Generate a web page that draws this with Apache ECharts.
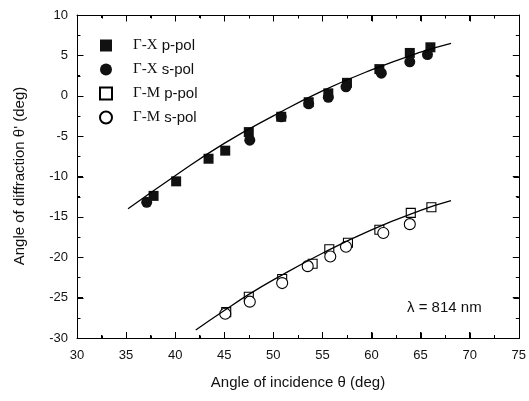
<!DOCTYPE html>
<html><head><meta charset="utf-8">
<script src="https://cdn.jsdelivr.net/npm/echarts@6/dist/echarts.min.js"></script>
<style>html,body{margin:0;padding:0;background:#fff}#c{width:529px;height:401px}</style>
</head><body><div id="c"></div>
<script>
// Γ-X p-pol (filled squares)
const gxP_x = [37.8, 40.1, 43.4, 45.1, 47.5, 50.8, 53.6, 55.6, 57.5, 60.8, 63.9, 66.0];
const gxP_y = [-12.4, -10.6, -7.8, -6.8, -4.5, -2.6, -0.8, 0.3, 1.6, 3.3, 5.3, 6.0];
// Γ-X s-pol (filled circles)
const gxS_x = [37.1, 47.6, 50.8, 53.6, 55.6, 57.4, 61.0, 63.9, 65.7];
const gxS_y = [-13.2, -5.5, -2.6, -1.0, -0.2, 1.1, 2.8, 4.2, 5.1];
// Γ-M p-pol (open squares)
const gmP_x = [45.2, 47.5, 50.9, 54.0, 55.7, 57.6, 60.8, 64.0, 66.1];
const gmP_y = [-26.8, -24.9, -22.7, -20.8, -19.0, -18.2, -16.6, -14.5, -13.8];
// Γ-M s-pol (open circles)
const gmS_x = [45.1, 47.6, 50.9, 53.5, 55.8, 57.4, 61.2, 63.9];
const gmS_y = [-27.0, -25.5, -23.2, -21.1, -19.9, -18.7, -17.0, -15.9];
// fitted curves
const fitX_x = [35.2, 40, 45, 50, 55, 60, 65, 68.1];
const fitX_y = [-14.0, -9.9, -5.9, -2.5, 0.6, 3.2, 5.4, 6.5];
const fitM_x = [42.1, 45, 47.5, 50, 55, 60, 65, 68.1];
const fitM_y = [-29.0, -26.6, -24.6, -22.8, -19.5, -16.6, -14.2, -13.0];

const xTicks = [30, 35, 40, 45, 50, 55, 60, 65, 70, 75];
const yTicks = [-30, -25, -20, -15, -10, -5, 0, 5, 10];
const names = ['Γ-X p-pol', 'Γ-X s-pol', 'Γ-M p-pol', 'Γ-M s-pol'];

const zip = (a, b) => a.map((v, i) => [v, b[i]]);
const ink = '#000';
const txt = '#111';

const chart = echarts.init(document.getElementById('c'));
function mk(isX, pos) {
  const t = isX ? xTicks : yTicks;
  const lab = pos === 'bottom' || pos === 'left';
  return {type: 'value', position: pos, min: t[0], max: t[t.length - 1], interval: 5,
    axisLine: {show: true, onZero: false, lineStyle: {color: ink}},
    axisTick: {show: true, inside: true, length: 6, lineStyle: {color: ink}},
    minorTick: {show: true, splitNumber: 2, length: 3, lineStyle: {color: ink}},
    splitLine: {show: false},
    axisLabel: lab ? {show: true, color: txt, fontSize: 13, fontFamily: 'Liberation Sans', margin: isX ? 11 : 9} : {show: false}};
}

const texts = [
  {type: 'text', left: 407, top: 300,
   style: {text: 'λ = 814 nm', fill: txt, fontSize: 15, fontFamily: 'Liberation Sans'}},
  {type: 'text', x: 298, y: 383,
   style: {text: 'Angle of incidence θ (deg)', fill: txt, fontSize: 15, fontFamily: 'Liberation Sans',
     textAlign: 'center', textVerticalAlign: 'middle'}},
  {type: 'text', x: 20, y: 176, rotation: Math.PI / 2,
   style: {text: "Angle of diffraction θ' (deg)", fill: txt, fontSize: 15, fontFamily: 'Liberation Sans',
     textAlign: 'center', textVerticalAlign: 'middle'}}
];

chart.setOption({
  animation: false,
  grid: {left: 77, right: 9, top: 15, bottom: 63, containLabel: false},
  xAxis: [mk(true, 'bottom'), mk(true, 'top')],
  yAxis: [mk(false, 'left'), mk(false, 'right')],
  legend: {
    data: names, orient: 'vertical', left: 94, top: 32,
    itemWidth: 12, itemHeight: 12, itemGap: 7,
    formatter: n => '{g|' + n.slice(0, 3) + '}' + n.slice(3),
    textStyle: {color: txt, fontSize: 15, fontFamily: 'Liberation Sans', padding: [0, 0, 0, 16], lineHeight: 17,
      rich: {g: {fontFamily: 'Liberation Serif', fontSize: 15, color: txt, lineHeight: 17}}}
  },
  series: [
    {type: 'line', data: zip(fitX_x, fitX_y), smooth: true, symbol: 'none',
     lineStyle: {color: ink, width: 1.3}},
    {type: 'line', data: zip(fitM_x, fitM_y), smooth: true, symbol: 'none',
     lineStyle: {color: ink, width: 1.3}},
    {name: names[0], type: 'scatter', data: zip(gxP_x, gxP_y), symbol: 'rect', symbolSize: 10,
     itemStyle: {color: '#111', opacity: 1}},
    {name: names[1], type: 'scatter', data: zip(gxS_x, gxS_y), symbol: 'circle', symbolSize: 11,
     itemStyle: {color: '#111', opacity: 1}},
    {name: names[2], type: 'scatter', data: zip(gmP_x, gmP_y), symbol: 'rect', symbolSize: 9,
     itemStyle: {color: '#fff', borderColor: ink, borderWidth: 1.1, opacity: 1}},
    {name: names[3], type: 'scatter', data: zip(gmS_x, gmS_y), symbol: 'circle', symbolSize: 11,
     itemStyle: {color: '#fff', borderColor: ink, borderWidth: 1.1, opacity: 1}}
  ]
});

// frame and mirrored ticks placed through the chart's own axis scales
const X = v => chart.convertToPixel({xAxisIndex: 0}, v);
const Y = v => chart.convertToPixel({yAxisIndex: 0}, v);
const crisp = p => Math.round(p) + 0.5;
const xl = crisp(X(xTicks[0])), xr = crisp(X(xTicks[xTicks.length - 1]));
const yb = crisp(Y(yTicks[0])), yt = crisp(Y(yTicks[yTicks.length - 1]));
const st = {stroke: ink, lineWidth: 1};
const extra = [{type: 'rect', shape: {x: xl, y: yt, width: xr - xl, height: yb - yt},
  style: {fill: null, stroke: ink, lineWidth: 1}, silent: true}];
function vTick(v, len) {
  const px = crisp(X(v));
  extra.push({type: 'line', silent: true, shape: {x1: px, y1: yb, x2: px, y2: yb - len}, style: st});
  extra.push({type: 'line', silent: true, shape: {x1: px, y1: yt, x2: px, y2: yt + len}, style: st});
}
function hTick(v, len) {
  const py = crisp(Y(v));
  extra.push({type: 'line', silent: true, shape: {x1: xl, y1: py, x2: xl + len, y2: py}, style: st});
  extra.push({type: 'line', silent: true, shape: {x1: xr, y1: py, x2: xr - len, y2: py}, style: st});
}
xTicks.forEach((v, i) => { vTick(v, 6); if (i < xTicks.length - 1) vTick((v + xTicks[i + 1]) / 2, 3); });
yTicks.forEach((v, i) => { hTick(v, 6); if (i < yTicks.length - 1) hTick((v + yTicks[i + 1]) / 2, 3); });

chart.setOption({graphic: texts.concat(extra)});
</script>
</body></html>
